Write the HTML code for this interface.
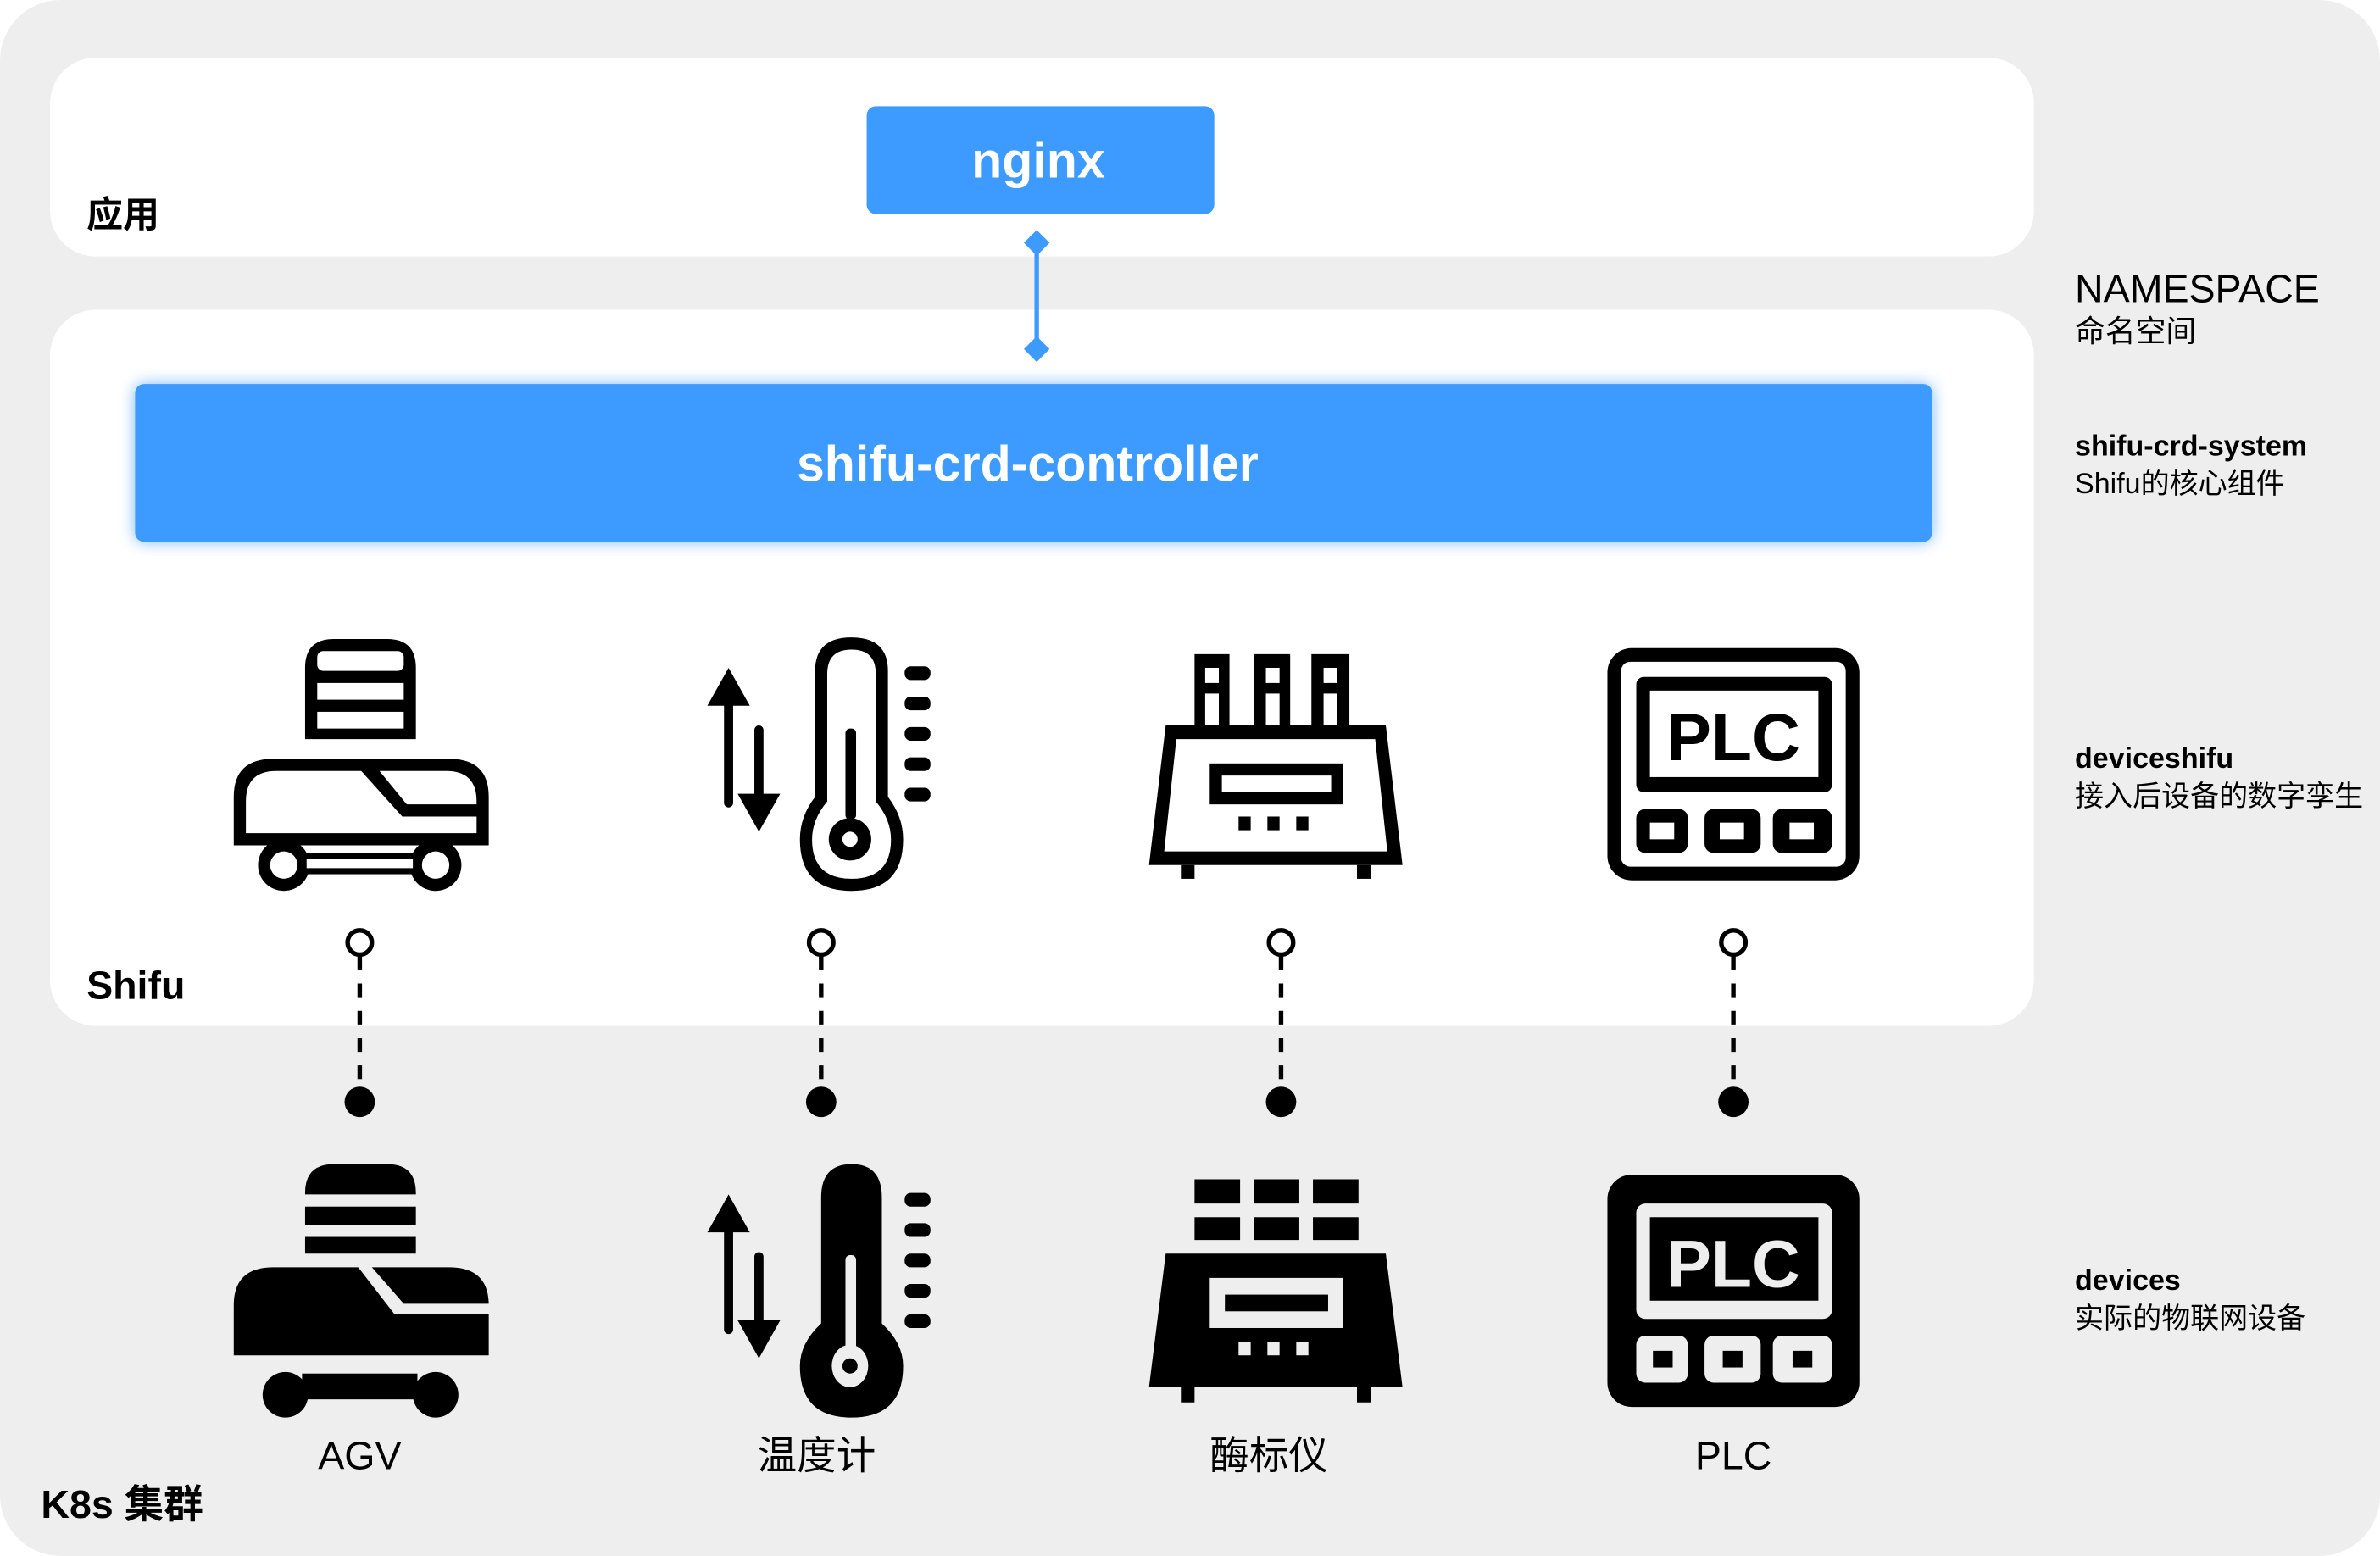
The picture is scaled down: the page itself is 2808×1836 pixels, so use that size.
<!DOCTYPE html>
<html><head><meta charset="utf-8"><style>
html,body{margin:0;padding:0;background:#fff;width:2808px;height:1836px;overflow:hidden}
svg{display:block}
text{font-family:"Liberation Sans","Noto Sans CJK SC",sans-serif}
</style></head><body>
<svg width="2808" height="1836" viewBox="0 0 1568 1025.2" xmlns="http://www.w3.org/2000/svg">
<defs>
<filter id="glow" x="-10%" y="-40%" width="120%" height="180%"><feGaussianBlur stdDeviation="5"/></filter>
</defs>
<rect x="0" y="0" width="1568" height="1025.2" rx="40" fill="#eeeeee"/>
<rect x="33" y="38" width="1307" height="131" rx="30" fill="#fff"/>
<rect x="33" y="204" width="1307" height="472" rx="30" fill="#fff"/>
<rect x="571" y="70" width="229" height="71" rx="6" fill="#3d9bff"/>
<text x="684" y="117" fill="#fff" font-size="33" font-weight="bold" text-anchor="middle">nginx</text>
<line x1="683" y1="160" x2="683" y2="230" stroke="#3d9bff" stroke-width="3"/>
<rect x="677" y="154" width="12" height="12" fill="#3d9bff" transform="rotate(45 683 160)"/>
<rect x="677" y="224" width="12" height="12" fill="#3d9bff" transform="rotate(45 683 230)"/>
<rect x="89" y="253" width="1184" height="104" rx="6" fill="#3d9bff" opacity="0.7" filter="url(#glow)"/>
<rect x="89" y="253" width="1184" height="104" rx="6" fill="#3d9bff"/>
<text x="677" y="317" fill="#fff" font-size="33" font-weight="bold" text-anchor="middle">shifu-crd-controller</text>
<text x="57" y="150" font-size="24" font-weight="bold">应用</text>
<text x="57" y="658" font-size="26" font-weight="bold">Shifu</text>
<text x="27" y="1000" font-size="26" font-weight="bold">K8s 集群</text>
<text x="1367" y="199" font-size="26">NAMESPACE</text>
<text x="1367" y="225" font-size="20">命名空间</text>
<text x="1367" y="300" font-size="19" font-weight="bold">shifu-crd-system</text>
<text x="1367" y="325" font-size="19">Shifu的核心组件</text>
<text x="1367" y="506" font-size="19" font-weight="bold">deviceshifu</text>
<text x="1367" y="531" font-size="19">接入后设备的数字孪生</text>
<text x="1367" y="850" font-size="19" font-weight="bold">devices</text>
<text x="1367" y="875" font-size="19">实际的物联网设备</text>
<g stroke="#000" stroke-width="3" fill="none">
<circle cx="237" cy="621" r="8"/><circle cx="541" cy="621" r="8"/><circle cx="844" cy="621" r="8"/><circle cx="1142" cy="621" r="8"/>
<g stroke-dasharray="9 9"><line x1="237" y1="630" x2="237" y2="716"/><line x1="541" y1="630" x2="541" y2="716"/><line x1="844" y1="630" x2="844" y2="716"/><line x1="1142" y1="630" x2="1142" y2="716"/></g>
</g>
<g fill="#000"><circle cx="237" cy="726" r="10"/><circle cx="541" cy="726" r="10"/><circle cx="844" cy="726" r="10"/><circle cx="1142" cy="726" r="10"/></g>
<g font-size="26" text-anchor="middle"><text x="237" y="968">AGV</text><text x="538" y="968">温度计</text><text x="836" y="968">酶标仪</text><text x="1142" y="968">PLC</text></g>

<!-- TOP ICONS (outline) -->
<g fill="#000">
<!-- AGV -->
<path d="M201 487 V440 Q201 421 220 421 H255 Q274 421 274 440 V487 Z"/>
<rect x="209" y="429" width="57" height="13" rx="4" fill="#fff"/>
<rect x="209" y="450" width="57" height="11" fill="#fff"/>
<rect x="209" y="469" width="57" height="11" fill="#fff"/>
<path d="M154 557 V525 Q154 500 180 500 H296 Q322 500 322 525 V557 Z"/>
<path d="M162 549 V528 Q162 508 182 508 H238 L265 538 H314 V549 Z" fill="#fff"/>
<path d="M250 508 H294 Q314 508 314 528 V530 H268 Z" fill="#fff"/>
<rect x="180" y="562" width="116" height="14"/>
<ellipse cx="187" cy="570" rx="17" ry="17"/><ellipse cx="287" cy="570" rx="17" ry="17"/>
<circle cx="187" cy="570" r="9" fill="#fff"/><circle cx="287" cy="570" r="9" fill="#fff"/>
<rect x="202" y="566" width="70" height="6" fill="#fff"/>
<!-- thermometer -->
<rect x="477" y="452" width="6" height="80" rx="3"/><path d="M480 440 L466 465 L494 465 Z"/>
<rect x="497" y="478" width="6" height="58" rx="3"/><path d="M500 548 L486 523 L514 523 Z"/>
<path d="M537 442 Q537 420 561 420 Q585 420 585 442 V525 Q595 538 595 553 Q595 587 561 587 Q527 587 527 553 Q527 538 537 525 Z"/>
<path d="M545 444 Q545 428 561 428 Q577 428 577 444 V528 Q587 540 587 553 Q587 579 561 579 Q535 579 535 553 Q535 540 545 528 Z" fill="#fff"/>
<rect x="557" y="480" width="7" height="60" rx="3"/>
<circle cx="560" cy="553" r="14"/><circle cx="560" cy="553" r="5" fill="#fff"/>
<rect x="596" y="439" width="17" height="9" rx="4"/><rect x="596" y="459" width="17" height="9" rx="4"/><rect x="596" y="479" width="17" height="9" rx="4"/><rect x="596" y="499" width="17" height="9" rx="4"/><rect x="596" y="519" width="17" height="9" rx="4"/>
<!-- enzyme reader -->
<rect x="787" y="431" width="23" height="49"/><rect x="826" y="431" width="24" height="49"/><rect x="864" y="431" width="25" height="49"/>
<rect x="794" y="440" width="9" height="10" fill="#fff"/><rect x="834" y="440" width="9" height="10" fill="#fff"/><rect x="872" y="440" width="9" height="10" fill="#fff"/>
<rect x="794" y="457" width="9" height="21" fill="#fff"/><rect x="834" y="457" width="9" height="21" fill="#fff"/><rect x="872" y="457" width="9" height="21" fill="#fff"/>
<path d="M768 478 H913 L924 570 H757 Z"/>
<path d="M775 487 H906 L914 561 H767 Z" fill="#fff"/>
<rect x="797" y="503" width="88" height="27"/><rect x="805" y="511" width="72" height="11" fill="#fff"/>
<rect x="816" y="538" width="8" height="9"/><rect x="835" y="538" width="8" height="9"/><rect x="854" y="538" width="8" height="9"/>
<rect x="778" y="570" width="9" height="9"/><rect x="894" y="570" width="9" height="9"/>
<!-- PLC -->
<rect x="1059" y="427" width="166" height="153" rx="16"/>
<rect x="1068" y="436" width="148" height="135" rx="6" fill="#fff"/>
<rect x="1078" y="446" width="129" height="76" rx="5"/>
<rect x="1087" y="455" width="111" height="57" fill="#fff"/>
<text x="1142" y="501" font-size="44" font-weight="bold" text-anchor="middle" font-family="DejaVu Sans, sans-serif">PLC</text>
<rect x="1078" y="533" width="34" height="29" rx="6"/><rect x="1123" y="533" width="37" height="29" rx="6"/><rect x="1168" y="533" width="39" height="29" rx="6"/>
<rect x="1087" y="542" width="16" height="11" fill="#fff"/><rect x="1133" y="542" width="16" height="11" fill="#fff"/><rect x="1179" y="542" width="16" height="11" fill="#fff"/>
</g>

<!-- BOTTOM ICONS (filled) -->
<g fill="#000">
<!-- AGV -->
<path d="M201 787 V786 Q201 767 220 767 H255 Q274 767 274 786 V787 Z"/>
<rect x="201" y="795" width="73" height="12"/><rect x="201" y="815" width="73" height="11"/>
<path d="M154 893 V860 Q154 835 180 835 H236 L260 866 H322 V893 Z"/>
<path d="M245 835 H296 Q322 835 322 860 V859 H266 Z"/>
<rect x="199" y="905" width="76" height="17"/>
<ellipse cx="188" cy="919" rx="15" ry="15"/><ellipse cx="287" cy="919" rx="15" ry="15"/>
<!-- thermometer -->
<rect x="477" y="799" width="6" height="80" rx="3"/><path d="M480 787 L466 812 L494 812 Z"/>
<rect x="497" y="825" width="6" height="58" rx="3"/><path d="M500 895 L486 870 L514 870 Z"/>
<path d="M541 789 Q541 767 561 767 Q581 767 581 789 V872 Q595 885 595 900 Q595 934 561 934 Q527 934 527 900 Q527 885 541 872 Z"/>
<rect x="557" y="827" width="7" height="66" rx="3" fill="#eeeeee"/>
<ellipse cx="560" cy="900" rx="12" ry="14" fill="#eeeeee"/><circle cx="560" cy="900" r="5"/>
<rect x="596" y="786" width="17" height="9" rx="4"/><rect x="596" y="806" width="17" height="9" rx="4"/><rect x="596" y="826" width="17" height="9" rx="4"/><rect x="596" y="846" width="17" height="9" rx="4"/><rect x="596" y="866" width="17" height="9" rx="4"/>
<!-- enzyme -->
<rect x="787" y="777" width="30" height="16"/><rect x="826" y="777" width="30" height="16"/><rect x="865" y="777" width="30" height="16"/>
<rect x="787" y="802" width="30" height="15"/><rect x="826" y="802" width="30" height="15"/><rect x="865" y="802" width="30" height="15"/>
<path d="M768 826 H913 L924 914 H757 Z"/>
<rect x="797" y="842" width="88" height="33" fill="#eeeeee"/><rect x="807" y="853" width="68" height="11"/>
<rect x="816" y="884" width="8" height="9" fill="#eeeeee"/><rect x="835" y="884" width="8" height="9" fill="#eeeeee"/><rect x="854" y="884" width="8" height="9" fill="#eeeeee"/>
<rect x="778" y="914" width="9" height="10"/><rect x="894" y="914" width="9" height="10"/>
<!-- PLC -->
<rect x="1059" y="774" width="166" height="153" rx="16"/>
<rect x="1078" y="793" width="129" height="76" rx="6" fill="#eeeeee"/>
<rect x="1087" y="802" width="111" height="55"/>
<text x="1142" y="848" font-size="44" font-weight="bold" text-anchor="middle" fill="#eeeeee" font-family="DejaVu Sans, sans-serif">PLC</text>
<rect x="1078" y="880" width="34" height="31" rx="6" fill="#eeeeee"/><rect x="1123" y="880" width="37" height="31" rx="6" fill="#eeeeee"/><rect x="1168" y="880" width="39" height="31" rx="6" fill="#eeeeee"/>
<rect x="1089" y="890" width="13" height="11"/><rect x="1135" y="890" width="13" height="11"/><rect x="1181" y="890" width="13" height="11"/>
</g>
</svg>
</body></html>
